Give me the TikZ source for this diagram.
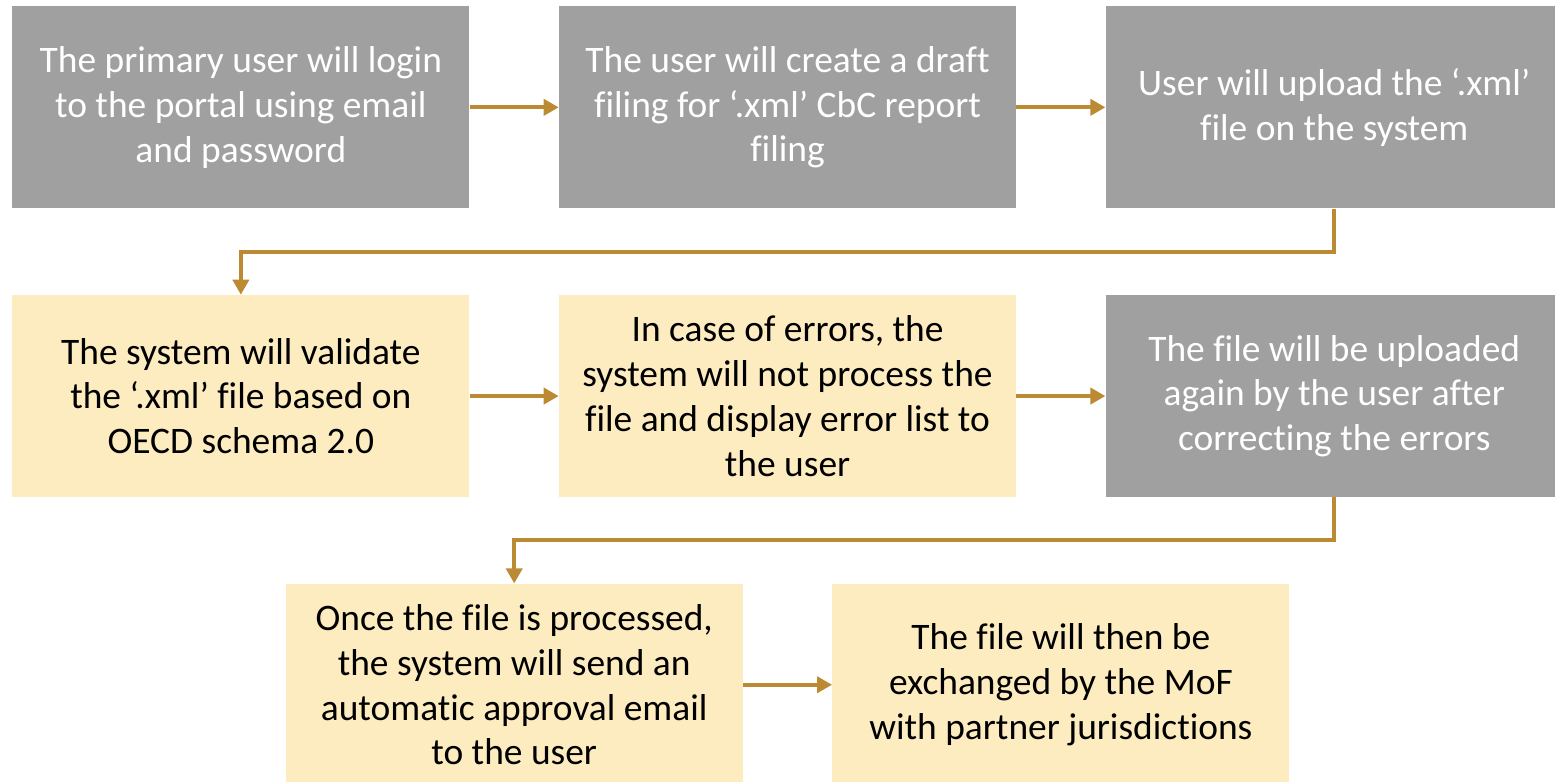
\documentclass[tikz,border=0pt]{standalone}
\usepackage{fontspec}
\setmainfont{Carlito}[Ligatures=CommonOff]
\usepackage{tikz}
\usetikzlibrary{positioning, arrows.meta, calc}

\definecolor{boxgray}{HTML}{A0A0A0}
\definecolor{boxyellow}{HTML}{FDECBF}
\definecolor{arrowgold}{HTML}{BB8A33}

\begin{document}
\begin{tikzpicture}[
    node distance=1.72cm and 1.78cm,
    graystep/.style={rectangle, fill=boxgray, text=white, minimum width=9.14cm, minimum height=4.04cm, align=center, font=\fontsize{21.3}{25.5}\selectfont},
    yellowstep/.style={rectangle, fill=boxyellow, text=black, minimum width=9.14cm, minimum height=4.04cm, align=center, font=\fontsize{21.3}{25.5}\selectfont},
    flowarrow/.style={draw=arrowgold, line width=2.3pt, -{Triangle[length=0.3cm, width=0.32cm]}}
]
\useasboundingbox (0,0) rectangle (31.1,-15.62);

\node[graystep, anchor=north west](step_1_1) at (0.24,-0.12){The primary user will login\\to the portal using email\\and password};
\node[graystep](step_1_2)[right = of step_1_1]{The user will create a draft\\filing for ‘.xml’ CbC report\\filing};
\node[graystep](step_1_3)[right = of step_1_2]{User will upload the ‘.xml’\\file on the system};

\node[yellowstep](step_2_1)[below = of step_1_1]{The system will validate\\the ‘.xml’ file based on\\OECD schema 2.0};
\node[yellowstep](step_2_2)[right = of step_2_1]{In case of errors, the\\system will not process the\\file and display error list to\\the user};
\node[graystep](step_2_3)[right = of step_2_2]{The file will be uploaded\\again by the user after\\correcting the errors};

\node[yellowstep, anchor=north](step_3_1) at ($($(step_2_1.south)!0.5!(step_2_2.south)$)+(0,-1.72)$){Once the file is processed,\\the system will send an\\automatic approval email\\to the user};
\node[yellowstep](step_3_2)[right = of step_3_1]{The file will then be\\exchanged by the MoF\\with partner jurisdictions};

\draw[flowarrow] (step_1_1.east) -- (step_1_2.west);
\draw[flowarrow] (step_1_2.east) -- (step_1_3.west);
\draw[flowarrow] (step_1_3.south) -- ++(0,-0.86) -| (step_2_1.north);
\draw[flowarrow] (step_2_1.east) -- (step_2_2.west);
\draw[flowarrow] (step_2_2.east) -- (step_2_3.west);
\draw[flowarrow] (step_2_3.south) -- ++(0,-0.86) -| (step_3_1.north);
\draw[flowarrow] (step_3_1.east) -- (step_3_2.west);
\end{tikzpicture}
\end{document}
